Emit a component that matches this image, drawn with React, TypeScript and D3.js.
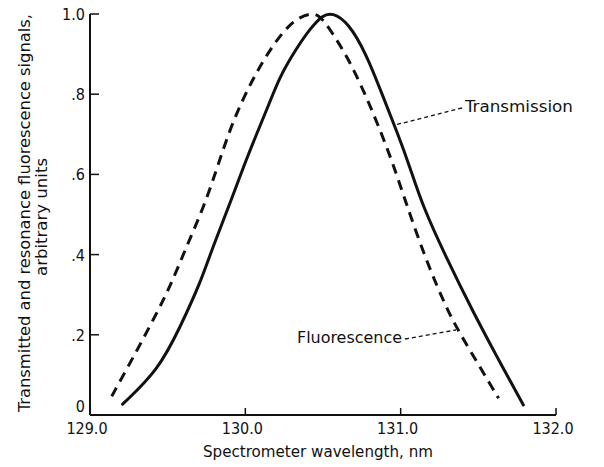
import React from "react";
import * as d3 from "d3";

const transWl = [129.21, 129.44, 129.58, 129.71, 129.79, 129.91, 130.01, 130.15, 130.22, 130.33, 130.42, 130.5, 130.56, 130.66, 130.78, 130.89, 130.98, 131.06, 131.14, 131.3, 131.47, 131.62, 131.79];
const transVal = [0.027, 0.112, 0.219, 0.329, 0.419, 0.536, 0.643, 0.772, 0.843, 0.915, 0.965, 0.998, 1.003, 0.98, 0.9, 0.79, 0.703, 0.618, 0.522, 0.387, 0.254, 0.145, 0.025];

const fluorWl = [129.14, 129.28, 129.43, 129.52, 129.62, 129.73, 129.82, 129.9, 129.99, 130.09, 130.2, 130.31, 130.42, 130.48, 130.56, 130.66, 130.76, 130.85, 130.95, 131.04, 131.17, 131.3, 131.38, 131.51, 131.63];
const fluorVal = [0.047, 0.145, 0.254, 0.324, 0.419, 0.516, 0.618, 0.712, 0.793, 0.868, 0.935, 0.985, 1.003, 0.997, 0.953, 0.891, 0.81, 0.728, 0.628, 0.522, 0.379, 0.262, 0.204, 0.12, 0.042];

const xTicks = [129, 130, 131, 132];
const xTickLabels = ["129.0", "130.0", "131.0", "132.0"];
const yTicks = [0, 0.2, 0.4, 0.6, 0.8, 1.0];
const yTickLabels = ["0", ".2", ".4", ".6", ".8", "1.0"];

const FONT = "'DejaVu Sans Condensed', 'Liberation Sans Narrow', 'DejaVu Sans', sans-serif";

export default function App() {
  const W = 604;
  const H = 467;
  const x = d3.scaleLinear().domain([129, 132]).range([90, 556]);
  const y = d3.scaleLinear().domain([0, 1]).range([415, 14]);

  const line = d3
    .line<[number, number]>()
    .x((d) => x(d[0]))
    .y((d) => y(d[1]))
    .curve(d3.curveBasis);

  const trans = transWl.map((w, i) => [w, transVal[i]] as [number, number]);
  const fluor = fluorWl.map((w, i) => [w, fluorVal[i]] as [number, number]);

  return (
    <svg
      width={W}
      height={H}
      style={{ position: "absolute", left: 0, top: 0, background: "#fff" }}
      fontFamily={FONT}
    >
      <rect width={W} height={H} fill="#fff" />
      {/* axes */}
      <line x1={x(129)} x2={x(132)} y1={y(0)} y2={y(0)} stroke="#111" strokeWidth={2} />
      <line x1={x(129)} x2={x(129)} y1={y(0)} y2={y(1)} stroke="#111" strokeWidth={2} />
      {yTicks.map((t, i) => (
        <g key={"y" + i}>
          {i > 0 && (
            <line x1={x(129)} x2={x(129) + 9} y1={y(t)} y2={y(t)} stroke="#111" strokeWidth={1.5} />
          )}
          <text x={x(129) - 5} y={i === 0 ? y(t) - 3 : y(t) + 6} textAnchor="end" fontSize={16} fill="#111">
            {yTickLabels[i]}
          </text>
        </g>
      ))}
      {xTicks.map((t, i) => (
        <g key={"x" + i}>
          {i > 0 && (
            <line x1={x(t)} x2={x(t)} y1={y(0)} y2={y(0) - 7} stroke="#111" strokeWidth={1.5} />
          )}
          <text x={x(t) - 3} y={434} textAnchor="middle" fontSize={16} fill="#111">
            {xTickLabels[i]}
          </text>
        </g>
      ))}
      <text x={318} y={457} textAnchor="middle" fontSize={16} fill="#111" textLength={230} lengthAdjust="spacingAndGlyphs">
        Spectrometer wavelength, nm
      </text>
      <g transform="translate(30,213) rotate(-90)">
        <text x={0} y={0} textAnchor="middle" fontSize={16} fill="#111" textLength={398} lengthAdjust="spacingAndGlyphs">
          Transmitted and resonance fluorescence signals,
        </text>
      </g>
      <g transform="translate(47,217) rotate(-90)">
        <text x={0} y={0} textAnchor="middle" fontSize={16} fill="#111" textLength={118} lengthAdjust="spacingAndGlyphs">
          arbitrary units
        </text>
      </g>
      {/* curves */}
      <path d={line(trans) ?? ""} fill="none" stroke="#111" strokeWidth={3} strokeLinecap="round" />
      <path d={line(fluor) ?? ""} fill="none" stroke="#111" strokeWidth={3} strokeDasharray="10,7" />
      {/* annotations */}
      <line x1={462} y1={108} x2={395} y2={125} stroke="#111" strokeWidth={1.3} strokeDasharray="4,3" />
      <text x={465} y={112} fontSize={16} fill="#111" textLength={108} lengthAdjust="spacingAndGlyphs">
        Transmission
      </text>
      <line x1={405} y1={339} x2={456} y2={330} stroke="#111" strokeWidth={1.3} strokeDasharray="4,3" />
      <text x={297} y={343} fontSize={16} fill="#111" textLength={105} lengthAdjust="spacingAndGlyphs">
        Fluorescence
      </text>
    </svg>
  );
}
